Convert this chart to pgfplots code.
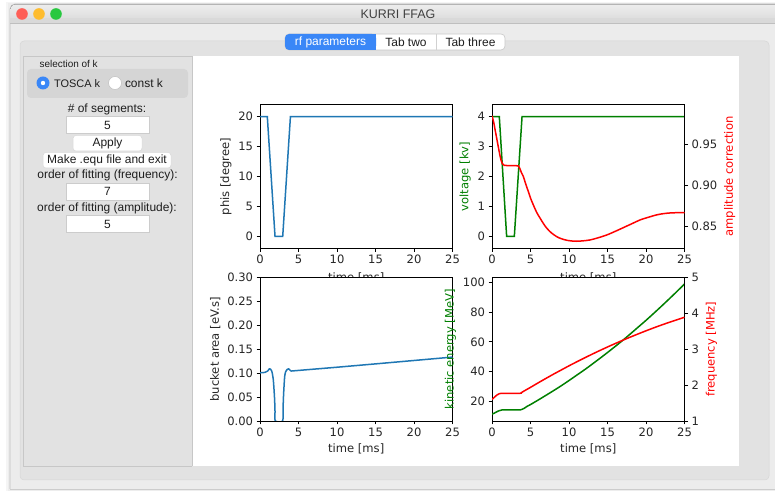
\documentclass[border=0pt]{standalone}
\usepackage{pgfplots}
\pgfplotsset{compat=1.18}
\usepackage{fontspec}
\setmainfont{Liberation Sans}
\newfontfamily\mplfont{DejaVu Sans}
\definecolor{mblue}{HTML}{1F77B4}
\definecolor{mgreen}{HTML}{008000}
\definecolor{mred}{HTML}{FF0000}
\definecolor{winbg}{HTML}{ECECEC}
\definecolor{panelbg}{HTML}{E2E2E2}
\definecolor{macblue}{HTML}{3A87F7}
\definecolor{guitext}{HTML}{1E1E1E}
\definecolor{tlred}{HTML}{FE5F57}
\definecolor{tlyellow}{HTML}{FEBC2E}
\definecolor{tlgreen}{HTML}{28C840}
\definecolor{groupbg}{HTML}{D5D5D5}
\newcommand{\mplsize}{\fontsize{11.6}{13}\selectfont}
\newcommand{\guisize}{\fontsize{12}{14}\selectfont}
\pgfplotsset{
  mpl/.style={
    scale only axis, width=192.5bp, height=143.5bp, anchor=south west,
    xmin=0, xmax=25, xtick={0,5,10,15,20,25},
    axis line style={line width=0.8bp, black},
    tick align=outside, major tick length=3.5bp,
    tick style={line width=0.8bp, black},
    ticklabel style={font=\mplfont\mplsize, text=black!85},
    label style={font=\mplfont\mplsize, text=black!85},
    /pgf/number format/assume math mode=true,
    scaled ticks=false,
    xtick pos=left, ytick pos=left,
  },
  twin/.style={
    scale only axis, width=192.5bp, height=143.5bp, anchor=south west,
    xmin=0, xmax=25, axis x line=none, axis y line*=right,
    axis line style={line width=0.8bp, black, -},
    tick align=outside, major tick length=3.5bp,
    tick style={line width=0.8bp, black},
    ticklabel style={font=\mplfont\mplsize, text=black!85},
    label style={font=\mplfont\mplsize},
    /pgf/number format/assume math mode=true,
    scaled ticks=false,
  },
}
\begin{document}
\begin{tikzpicture}[x=1bp,y=1bp]
\useasboundingbox (0,0) rectangle (775,491);
\begin{scope}[y=-1bp, yshift=491bp]
  \fill[white] (0,0) rectangle (775,491);
  % shadow
  \fill[black!4] (6,2) rectangle (780,491);
  \fill[black!7] (8,3) rectangle (780,491);
  % window
  \fill[winbg, rounded corners=5bp] (10,4) rectangle (785,489);
  \draw[black!25, line width=0.6bp, rounded corners=5bp] (10,489) -- (10,4) -- (785,4);
  \draw[black!20, line width=0.6bp] (10,489) -- (785,489);
  % title bar
  \fill[top color=black!7, bottom color=black!15, rounded corners=5bp] (10.3,4.3) rectangle (785,23);
  \fill[black!15] (10.3,18) rectangle (785,23);
  \draw[black!25, line width=0.6bp] (10,23) -- (785,23);
  \fill[tlred] (22,14) circle (5.8bp);
  \fill[tlyellow] (39,14) circle (5.8bp);
  \fill[tlgreen] (56,14) circle (5.8bp);
  \node[font=\fontsize{12.5}{14}\selectfont, text=black!75] at (398,14) {KURRI FFAG};
  % tab panel
  \fill[panelbg, rounded corners=4bp] (20,41) rectangle (769,480);
  \draw[black!16, line width=0.5bp, rounded corners=4bp] (20,41) rectangle (769,480);
  % tabs
  \fill[white, rounded corners=4bp] (285,34) rectangle (505,50);
  \draw[black!22, line width=0.6bp, rounded corners=4bp] (285,34) rectangle (505,50);
  \fill[macblue, rounded corners=4bp] (285,34) rectangle (376,50);
  \fill[macblue] (368,34) rectangle (376,50);
  \draw[black!18, line width=0.6bp] (436,34) -- (436,50);
  \node[font=\guisize, text=white] at (330.5,42.5) {rf parameters};
  \node[font=\guisize, text=guitext] at (406,42.5) {Tab two};
  \node[font=\guisize, text=guitext] at (470.5,42.5) {Tab three};
  % left panel
  \fill[panelbg] (23,56) rectangle (192,466);
  \draw[black!22, line width=0.6bp] (192,56) -- (23,56) -- (23,466) -- (192,466);
  % white canvas
  \fill[white] (192,56) rectangle (739,466);
  \draw[black!22, line width=0.6bp] (192,56) -- (192,466);
  % selection group
  \node[font=\fontsize{10}{12}\selectfont, text=guitext, anchor=west] at (36,63.5) {selection of k};
  \fill[groupbg, rounded corners=4bp] (27,69) rectangle (188,98);
  \fill[macblue] (43,83) circle (6.5bp);
  \fill[white] (43,83) circle (2.2bp);
  \node[font=\fontsize{11}{13}\selectfont, text=guitext, anchor=west] at (50.5,83.5) {TOSCA k};
  \fill[white] (115,83) circle (6.5bp);
  \draw[black!25, line width=0.5bp] (115,83) circle (6.5bp);
  \node[font=\guisize, text=guitext, anchor=west] at (121.5,83.5) {const k};
  % segments
  \node[font=\guisize, text=guitext] at (107,109) {\# of segments:};
  \fill[white] (66,116) rectangle (149,133);
  \draw[black!20, line width=0.5bp] (66,116) rectangle (149,133);
  \node[font=\guisize, text=guitext] at (107.5,125) {5};
  \fill[white, rounded corners=3bp] (73,135.5) rectangle (142,151);
  \draw[black!15, line width=0.5bp, rounded corners=3bp] (73,135.5) rectangle (142,151);
  \node[font=\guisize, text=guitext] at (107.5,143.5) {Apply};
  \fill[white, rounded corners=3bp] (43,152.5) rectangle (171,168);
  \draw[black!15, line width=0.5bp, rounded corners=3bp] (43,152.5) rectangle (171,168);
  \node[font=\guisize, text=guitext] at (107,160.5) {Make .equ file and exit};
  \node[font=\guisize, text=guitext] at (107.5,175.5) {order of fitting (frequency):};
  \fill[white] (66,183) rectangle (149,200);
  \draw[black!20, line width=0.5bp] (66,183) rectangle (149,200);
  \node[font=\guisize, text=guitext] at (107.5,191.5) {7};
  \node[font=\guisize, text=guitext] at (107,208) {order of fitting (amplitude):};
  \fill[white] (66,215) rectangle (149,232);
  \draw[black!20, line width=0.5bp] (66,215) rectangle (149,232);
  \node[font=\guisize, text=guitext] at (107.5,224) {5};
\end{scope}

% ---------- top left: phis
\begin{axis}[mpl, at={(260bp,242.7bp)}, ymin=-2, ymax=22, ytick={0,5,10,15,20},
  xlabel={time [ms]}, ylabel={phis [degree]}, xlabel style={yshift=-2bp}]
\addplot[mblue, line width=1.5bp] coordinates {(0,20)(0.95,20)(1.95,0)(2.95,0)(3.95,20)(25,20)};
\end{axis}

% ---------- top right: voltage + amplitude correction
\begin{axis}[mpl, at={(492bp,242.7bp)}, ymin=-0.4, ymax=4.4, ytick={0,1,2,3,4},
  xlabel={time [ms]}, ylabel={voltage [kv]}, ylabel style={text=mgreen}, xlabel style={yshift=-2bp}]
\addplot[mgreen, line width=1.5bp] coordinates {(0,4)(0.95,4)(1.9,0)(2.9,0)(3.9,4)(25,4)};
\end{axis}
\begin{axis}[twin, at={(492bp,242.7bp)}, ymin=0.8231, ymax=0.9985, ytick={0.85,0.9,0.95},
  yticklabel style={/pgf/number format/.cd, fixed, fixed zerofill, precision=2},
  ylabel={amplitude correction}, ylabel style={text=mred}]
\addplot[mred, line width=1.5bp, smooth] coordinates {
(0,0.985)(0.2,0.978)(0.4,0.968)(0.6,0.958)(0.8,0.948)(1.0,0.938)(1.2,0.930)(1.4,0.926)(1.6,0.9245)
(2,0.9242)(3,0.9242)(3.4,0.9238)(3.6,0.921)(3.8,0.916)(4.07,0.9108)(4.4,0.901)(4.72,0.8924)(5.0,0.8845)
(5.37,0.876)(5.8,0.867)(6.24,0.860)(6.7,0.853)(7.11,0.8477)(7.7,0.842)(8.41,0.8373)(9.0,0.8348)
(9.71,0.8329)(10.4,0.832)(11.01,0.8317)(11.8,0.8322)(12.74,0.8333)(13.8,0.836)(14.91,0.8394)
(16,0.8438)(17.07,0.8484)(18.2,0.8533)(19.24,0.8578)(20.3,0.861)(21.41,0.864)(22.3,0.8655)
(23.14,0.8663)(24,0.8666)(25,0.8666)};
\end{axis}

% ---------- bottom left: bucket area
\begin{axis}[mpl, at={(260bp,70bp)}, ymin=0, ymax=0.3, ytick={0,0.05,0.1,0.15,0.2,0.25,0.3},
  yticklabel style={/pgf/number format/.cd, fixed, fixed zerofill, precision=2},
  axis background/.style={fill=white},
  xlabel={time [ms]}, ylabel={bucket area [eV.s]}]
\addplot[mblue, line width=1.5bp, smooth, tension=0.4] coordinates {
(0,0.1008)(0.65,0.1016)(1.0,0.1045)(1.21,0.109)(1.35,0.1085)(1.51,0.105)(1.63,0.097)(1.73,0.0856)
(1.82,0.066)(1.90,0.044)(1.95,0.02)(1.99,0)(2.94,0)(3.0,0.03)(3.07,0.058)(3.2,0.0925)(3.33,0.103)
(3.46,0.1065)(3.6,0.1085)(3.72,0.109)(3.85,0.107)(4.02,0.1044)};
\addplot[mblue, line width=1.5bp] coordinates {(4.02,0.1044)(10,0.1124)(15,0.1194)(20,0.1265)(25,0.1336)};
\end{axis}

% ---------- bottom right: kinetic energy + frequency
\begin{axis}[mpl, at={(492bp,70bp)}, ymin=6.6, ymax=103.4, ytick={20,40,60,80,100},
  axis background/.style={fill=white},
  xlabel={time [ms]}, ylabel={kinetic energy [MeV]}, ylabel style={text=mgreen}]
\addplot[mgreen, line width=1.5bp, smooth] coordinates {
(0,11.2)(0.3,11.9)(0.61,12.8)(0.9,13.5)(1.26,14.0)(1.5,14.1)(3.5,14.1)(3.7,14.15)(3.9,14.45)(4.2,15.2)
(4.5,16.3)(5,17.7)(6,20.75)(7,23.9)(8,27.1)(9,30.4)(10,33.9)(11,37.5)(12,41.1)(13,44.9)(14,48.8)
(15,52.8)(16,56.9)(17,61.1)(18,65.5)(19,70.0)(20,74.5)(21,79.2)(22,84.0)(23,88.9)(24,93.9)(25,99)};
\end{axis}
\begin{axis}[twin, at={(492bp,70bp)}, ymin=1, ymax=5, ytick={1,2,3,4,5},
  ylabel={frequency [MHz]}, ylabel style={text=mred}]
\addplot[mred, line width=1.5bp, smooth] coordinates {
(0,1.60)(0.3,1.66)(0.61,1.72)(0.9,1.755)(1.26,1.77)(3.6,1.77)(3.8,1.79)(4.2,1.84)(5,1.938)(6,2.064)
(7,2.187)(8,2.307)(9,2.423)(10,2.538)(11,2.649)(12,2.757)(13,2.862)(14,2.964)(15,3.063)(16,3.159)
(17,3.252)(18,3.342)(19,3.429)(20,3.514)(21,3.596)(22,3.674)(23,3.749)(24,3.821)(25,3.891)};
\end{axis}
\end{tikzpicture}
\end{document}
